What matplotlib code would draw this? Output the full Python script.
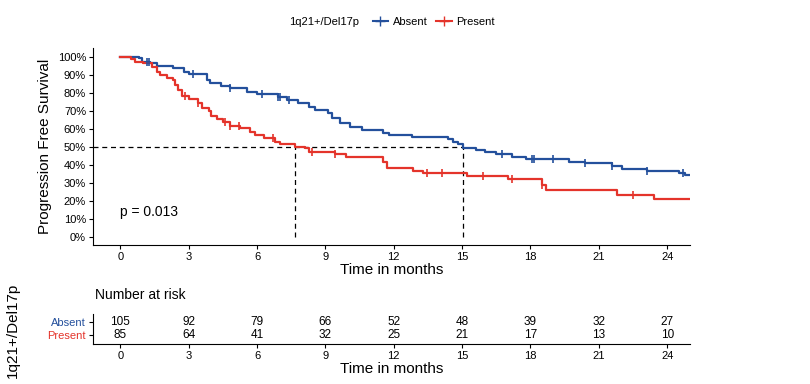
import matplotlib
matplotlib.use("Agg")
import matplotlib.pyplot as plt
from matplotlib.lines import Line2D
import numpy as np

plt.rcParams['font.family'] = ['Liberation Sans', 'DejaVu Sans']
NARROW = ['Liberation Sans Narrow', 'Liberation Sans', 'DejaVu Sans']

# Kaplan-Meier steps (months, survival %)
absent_t = [0, 0.8, 0.95, 1.3, 1.6, 2.3, 2.8, 3.0, 3.8, 3.95, 4.4, 4.8, 5.55, 6.0, 6.9, 7.3,
            7.8, 8.3, 8.55, 9.1, 9.3, 9.65, 10.1, 10.6, 11.55, 11.8, 12.8, 14.4, 14.6, 14.8,
            15.04, 15.6, 16.0, 16.5, 17.2, 17.8, 19.7, 20.4, 21.6, 22.0, 23.1, 24.5, 24.8, 25.0]
absent_s = [100, 99.3, 97.4, 96.5, 95, 93.7, 91.8, 90.6, 87.2, 85.4, 83.9, 82.6, 80.7, 79.3, 77.9, 76,
            74.3, 72.4, 70.6, 68.7, 66, 63.2, 61.3, 59.4, 57.6, 56.7, 55.7, 54.5, 53, 51.7,
            49.3, 48.3, 47, 46, 44.6, 43.5, 41.9, 41, 39.4, 38, 36.9, 35.7, 34.4, 34.4]
absent_cens = [1.18, 1.27, 3.2, 4.8, 6.2, 6.9, 7.0, 7.4, 16.75, 18.07, 18.15, 19.0, 20.4,
               21.6, 23.1, 24.7]

present_t = [0, 0.45, 0.65, 1.0, 1.4, 1.6, 1.75, 2.05, 2.3, 2.4, 2.55, 2.7, 3.0, 3.4, 3.6, 3.9,
             4.0, 4.25, 4.5, 4.8, 5.25, 5.7, 5.9, 6.3, 6.8, 7.0, 7.65, 8.1, 8.3, 9.4, 9.9,
             11.55, 11.7, 12.85, 13.3, 15.2, 17.0, 18.5, 18.7, 21.8, 23.4, 25.0]
present_s = [100, 99, 97.4, 96.5, 94.6, 91.9, 90.1, 88.3, 87.4, 84.6, 81.9, 78.2, 76.5, 74.6, 71.9, 70.1,
             67.3, 65.6, 63.7, 61.9, 60.4, 58.2, 56.7, 54.8, 53, 51.5, 50, 49.3, 47.4, 46.1, 44.3,
             41.9, 38.1, 36.7, 35.4, 34.1, 32, 28.9, 26.1, 23.3, 21.1, 21.1]
present_cens = [2.85, 3.4, 4.6, 4.8, 5.2, 6.7, 8.4, 9.4, 13.45, 14.1, 15.9, 17.2, 18.5, 22.5]

median_absent = 15.05
median_present = 7.65

risk_times = [0, 3, 6, 9, 12, 15, 18, 21, 24]
risk_absent = [105, 92, 79, 66, 52, 48, 39, 32, 27]
risk_present = [85, 64, 41, 32, 25, 21, 17, 13, 10]

blue = '#24509C'
red = '#E4342B'

fig = plt.figure(figsize=(8.1, 3.84), dpi=100)
ax = fig.add_axes([0.1148, 0.362, 0.737, 0.513])


def surv_at(ts, ss, t):
    i = np.searchsorted(ts, t, side='right') - 1
    return ss[i]


for ts, ss, cens, col in [(absent_t, absent_s, absent_cens, blue),
                          (present_t, present_s, present_cens, red)]:
    ts = np.array(ts)
    ss = np.array(ss) / 100
    ax.step(ts, ss, where='post', color=col, lw=1.6, zorder=3)
    cy = [surv_at(ts, ss, c) for c in cens]
    ax.plot(cens, cy, ls='none', marker='|', ms=6, mew=1.2, color=col, zorder=4)

# median lines
ax.plot([-1.2, median_absent], [0.5, 0.5], ls='--', color='black', lw=0.9, dashes=(4, 3))
for m in [median_present, median_absent]:
    ax.plot([m, m], [0, 0.5], ls='--', color='black', lw=0.9, dashes=(4, 3))

ax.text(0, 0.14, 'p = 0.013', fontsize=10, va='center', ha='left')

ax.set_xlim(-1.2, 25.0)
ax.set_ylim(-0.045, 1.05)
ax.set_xticks(risk_times)
ax.set_yticks(np.arange(0, 1.01, 0.1))
ax.set_yticklabels([f'{int(round(v * 100))}%' for v in np.arange(0, 1.01, 0.1)])
ax.tick_params(labelsize=8, length=3, width=0.8, pad=2)
for s in ['top', 'right']:
    ax.spines[s].set_visible(False)
ax.set_xlabel('Time in months', fontsize=11, labelpad=1)
ax.set_ylabel('Progression Free Survival', fontsize=11, labelpad=4)

# legend
fig.text(0.357, 0.943, '1q21+/Del17p', fontsize=8, ha='left', va='center')
handles = [Line2D([], [], color=blue, marker='+', ms=7, lw=1.5),
           Line2D([], [], color=red, marker='+', ms=7, lw=1.5)]
fig.legend(handles, ['Absent', 'Present'], loc='center left', bbox_to_anchor=(0.46, 0.943),
           ncol=2, frameon=False, fontsize=8, handlelength=1.4, handletextpad=0.4,
           columnspacing=0.8, borderaxespad=0, borderpad=0)

# risk table
ax2 = fig.add_axes([0.1148, 0.104, 0.737, 0.078])
for row, vals in [(1, risk_absent), (0, risk_present)]:
    for t, v in zip(risk_times, vals):
        ax2.text(t, row, str(v), ha='center', va='center', fontsize=8.5, family=NARROW)
ax2.set_xlim(-1.2, 25.0)
ax2.set_ylim(-0.7, 1.6)
ax2.set_yticks([1, 0])
ax2.set_yticklabels(['Absent', 'Present'], family=NARROW)
ax2.get_yticklabels()[0].set_color(blue)
ax2.get_yticklabels()[1].set_color(red)
ax2.set_xticks(risk_times)
ax2.set_xticklabels([str(t) for t in risk_times], family=NARROW)
ax2.tick_params(labelsize=8, length=3, width=0.8, pad=2)
for s in ['top', 'right']:
    ax2.spines[s].set_visible(False)
ax2.set_xlabel('Time in months', fontsize=11, labelpad=1)
fig.text(0.117, 0.232, 'Number at risk', fontsize=10, ha='left', va='center', family=NARROW)
fig.text(0.016, 0.14, '1q21+/Del17p', fontsize=11, rotation=90, ha='center', va='center')

fig.savefig('out.png', dpi=100)
